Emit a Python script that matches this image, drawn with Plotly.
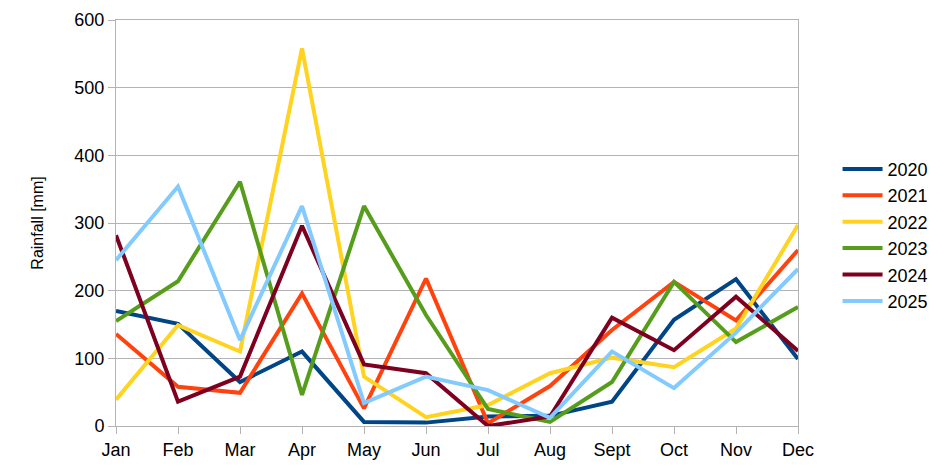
import plotly.graph_objects as go

months = ["Jan", "Feb", "Mar", "Apr", "May", "Jun", "Jul", "Aug", "Sept", "Oct", "Nov", "Dec"]
y2020 = [170, 151, 65, 110, 6, 5, 14, 15, 36, 157, 217, 99]
y2021 = [136, 58, 49, 196, 26, 218, 4, 59, 142, 213, 156, 260]
y2022 = [39, 149, 110, 558, 73, 13, 31, 78, 101, 87, 144, 297]
y2023 = [155, 214, 361, 46, 325, 164, 25, 6, 65, 213, 124, 176]
y2024 = [282, 36, 73, 296, 91, 78, 0, 14, 160, 112, 191, 111]
y2025 = [245, 354, 127, 325, 34, 73, 53, 12, 110, 56, 138, 232]
y_ticks = [0, 100, 200, 300, 400, 500, 600]

series = [
    ("2020", y2020, "#004586"),
    ("2021", y2021, "#ff420e"),
    ("2022", y2022, "#ffd320"),
    ("2023", y2023, "#579d1c"),
    ("2024", y2024, "#7e0021"),
    ("2025", y2025, "#83caff"),
]

fig = go.Figure()
for name, vals, col in series:
    fig.add_trace(go.Scatter(x=months, y=vals, name=name, mode="lines",
                             line=dict(color=col, width=4)))

font = "Liberation Sans, Arial, sans-serif"
fig.update_layout(
    width=940, height=462,
    margin=dict(l=108, r=150, t=12, b=44),
    paper_bgcolor="white", plot_bgcolor="white",
    font=dict(family=font, size=18, color="#000000"),
    showlegend=True,
    legend=dict(x=1.058, y=0.47, xanchor="left", yanchor="middle",
                font=dict(size=18), tracegroupgap=0, itemwidth=40,
                bgcolor="rgba(0,0,0,0)"),
    xaxis=dict(
        range=[0, 11], showgrid=False, showline=True, mirror=True,
        linecolor="#b3b3b3", linewidth=1, automargin=False,
        ticks="outside", ticklen=7, tickcolor="#b3b3b3",
        tickfont=dict(size=18), fixedrange=True,
    ),
    yaxis=dict(
        range=[0, 600], tickvals=y_ticks, showgrid=True, gridcolor="#b3b3b3",
        gridwidth=1, showline=True, mirror=True, linecolor="#b3b3b3",
        ticks="outside", ticklen=7, tickcolor="#b3b3b3", zeroline=False,
        tickfont=dict(size=18), automargin=False,
        title=dict(text="Rainfall [mm]", font=dict(size=16), standoff=26),
    ),
)

fig.write_html("out.html")
